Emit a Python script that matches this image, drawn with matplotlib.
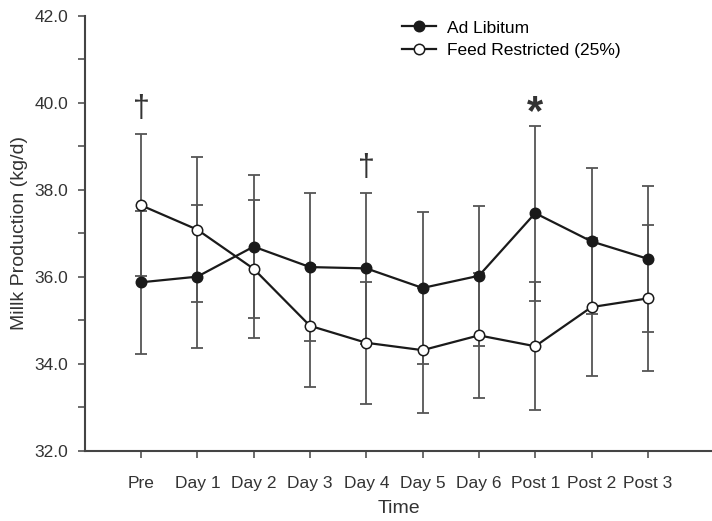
#!/usr/bin/env python

import numpy as np
import matplotlib.pyplot as plt

plt.rcParams["font.family"] = ["Liberation Sans", "DejaVu Sans"]

TIMES = ["Pre", "Day 1", "Day 2", "Day 3", "Day 4", "Day 5", "Day 6",
         "Post 1", "Post 2", "Post 3"]

AD_LIB = [35.87, 36.00, 36.69, 36.22, 36.19, 35.74, 36.02, 37.46, 36.81, 36.41]
AD_LIB_SE = [1.65, 1.65, 1.65, 1.71, 1.73, 1.74, 1.61, 2.01, 1.68, 1.68]

RESTRICTED = [37.64, 37.08, 36.18, 34.87, 34.48, 34.31, 34.65, 34.40, 35.30, 35.50]
RESTRICTED_SE = [1.63, 1.66, 1.58, 1.40, 1.40, 1.44, 1.44, 1.47, 1.58, 1.68]

# significance marks: (time label, symbol, y position)
MARKS = [("Pre", "\u2020", 39.85), ("Day 4", "\u2020", 38.5), ("Post 1", "*", 39.75)]

LINE = "#1a1a1a"
BAR = "#555555"
AXIS = "#444444"
TEXT = "#333333"


def draw_series(ax, x, y, se, face, label):
    ax.errorbar(x, y, yerr=se, fmt="none", ecolor=BAR, elinewidth=1.3,
                capsize=4.5, capthick=1.3, zorder=2)
    ax.plot(x, y, color=LINE, lw=1.6, marker="o", markersize=7.5,
            markerfacecolor=face, markeredgecolor=LINE, markeredgewidth=1.1,
            label=label, zorder=3)


def main():
    fig = plt.figure(figsize=(7.12, 5.21), dpi=100)
    ax = fig.add_axes([0.1194, 0.135, 0.8806, 0.835])

    x = np.arange(len(TIMES))
    draw_series(ax, x, AD_LIB, AD_LIB_SE, LINE, "Ad Libitum")
    draw_series(ax, x, RESTRICTED, RESTRICTED_SE, "white", "Feed Restricted (25%)")

    for name, sym, yv in MARKS:
        i = TIMES.index(name)
        if sym == "*":
            ax.text(x[i], yv, sym, ha="center", va="center", fontsize=30,
                    color=TEXT, fontweight="bold")
        else:
            ax.text(x[i], yv, sym, ha="center", va="center", fontsize=22,
                    color=TEXT)

    ax.set_xlim(-0.995, 10.14)
    ax.set_ylim(32, 42)
    ax.set_xticks(x)
    ax.set_xticklabels(TIMES, fontsize=12.5, color=TEXT)
    yt = np.arange(32, 42.1, 2)
    ax.set_yticks(yt)
    ax.set_yticklabels([f"{v:.1f}" for v in yt], fontsize=12.5, color=TEXT)
    ax.set_yticks(np.arange(33, 42, 2), minor=True)

    ax.tick_params(axis="both", which="both", direction="out", length=5,
                   width=1.1, color=AXIS)
    ax.tick_params(axis="x", pad=13)
    ax.tick_params(axis="y", pad=7)

    for side in ["top", "right"]:
        ax.spines[side].set_visible(False)
    for side in ["left", "bottom"]:
        ax.spines[side].set_color(AXIS)
        ax.spines[side].set_linewidth(1.5)

    ax.set_xlabel("Time", fontsize=14, color=TEXT, labelpad=7)
    ax.set_ylabel("Millk Production (kg/d)", fontsize=14, color=TEXT,
                  labelpad=5)

    ax.legend(loc="upper left", bbox_to_anchor=(0.48, 1.025), frameon=False,
              fontsize=12.5, handlelength=2.0, handletextpad=0.6,
              labelspacing=0.45)

    fig.savefig("out.png", dpi=100)
    plt.close(fig)


if __name__ == "__main__":
    main()
